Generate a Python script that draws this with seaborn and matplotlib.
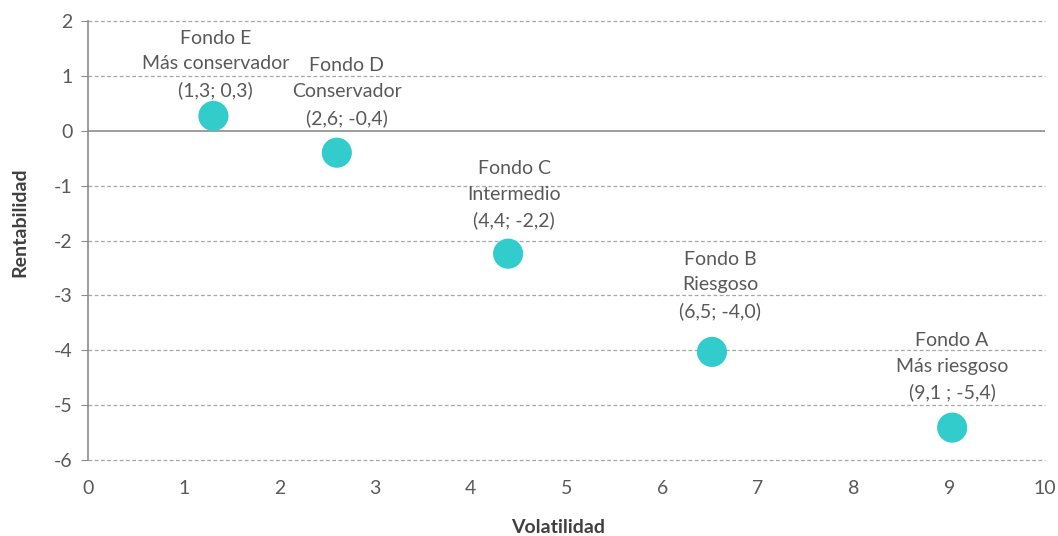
import pandas as pd
import numpy as np
import matplotlib
matplotlib.use('Agg')
import matplotlib.pyplot as plt
import seaborn as sns

# data
fondos = ['Fondo E', 'Fondo D', 'Fondo C', 'Fondo B', 'Fondo A']
perfiles = ['Más conservador', 'Conservador', 'Intermedio', 'Riesgoso', 'Más riesgoso']
volatilidad = [1.31, 2.60, 4.39, 6.52, 9.03]
rentabilidad = [0.27, -0.40, -2.24, -4.03, -5.41]
etiquetas = ['(1,3; 0,3)', '(2,6; -0,4)', '(4,4; -2,2)', '(6,5; -4,0)', '(9,1 ; -5,4)']

# label placement (offset points), as hand-placed in the original
offsets = [(1.4, 12.2), (7.2, 18.7), (4.3, 17.3), (5.8, 23), (0, 18.7)]

df = pd.DataFrame({'Volatilidad': volatilidad, 'Rentabilidad': rentabilidad})

sns.set_style('white')
plt.rcParams['font.family'] = ['Lato', 'DejaVu Sans']
plt.rcParams['axes.unicode_minus'] = False
TXT = '#595959'
GRID = '#a6a6a6'

fig = plt.figure(figsize=(10.58, 5.36), dpi=100)
ax = fig.add_axes([0.0832, 0.1418, 0.9045, 0.819])

sns.scatterplot(data=df, x='Volatilidad', y='Rentabilidad', ax=ax,
                color='#33CCCC', s=470, edgecolor='none', zorder=3)

ax.set_xlim(0, 10); ax.set_ylim(-6, 2)
ax.set_xticks(range(0, 11)); ax.set_yticks(range(-6, 3))
for y in range(-6, 3):
    if y != 0:
        ax.axhline(y, color=GRID, lw=0.9, ls=(0, (3, 2)), zorder=1, clip_on=False)
ax.axhline(0, color='#8c8c8c', lw=1.2, zorder=2)
for s in ['top', 'right', 'bottom']:
    ax.spines[s].set_visible(False)
ax.spines['left'].set_color('#8c8c8c'); ax.spines['left'].set_linewidth(1.2)
ax.tick_params(axis='y', left=True, length=5, color='#8c8c8c', labelsize=14,
               labelcolor=TXT, pad=6)
ax.tick_params(axis='x', bottom=False, labelsize=14, labelcolor=TXT, pad=11)

for f, p, x, y, lab, off in zip(fondos, perfiles, volatilidad, rentabilidad, etiquetas, offsets):
    ax.annotate(f'{f}\n{p}\n{lab}', (x, y), xytext=off, textcoords='offset points',
                ha='center', va='bottom', fontsize=14, color=TXT, linespacing=1.6)

ax.set_xlabel('Volatilidad', fontsize=14, fontweight='bold', color='#404040', va='center')
ax.set_ylabel('Rentabilidad', fontsize=14, fontweight='bold', color='#404040', va='center')
ax.xaxis.set_label_coords(0.491, -0.153)
ax.yaxis.set_label_coords(-0.071, 0.542)

plt.savefig('out.png', dpi=100)
